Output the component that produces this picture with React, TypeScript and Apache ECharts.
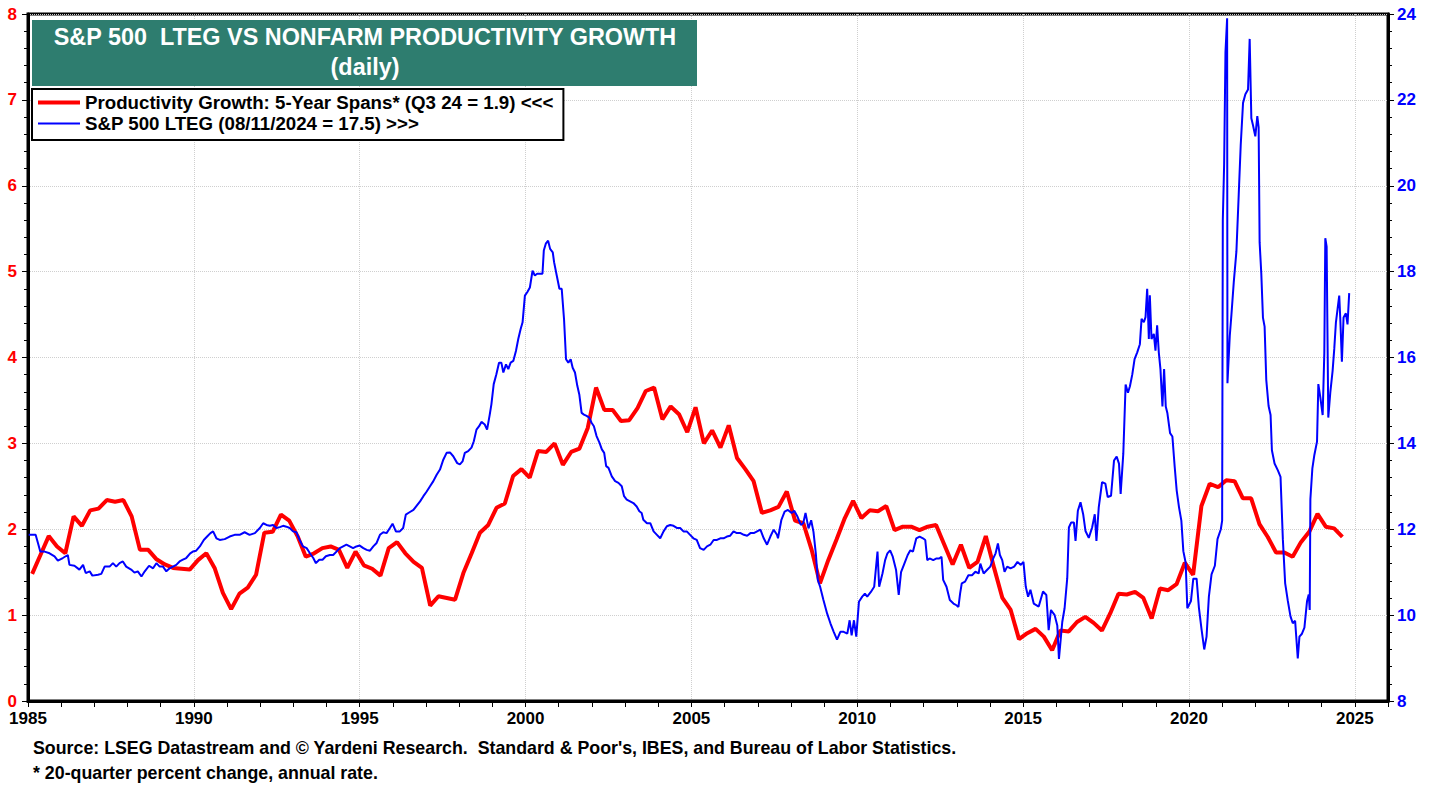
import React, { useEffect, useRef } from "react";
import * as echarts from "echarts";

const FONT = '"Liberation Sans", Arial, Helvetica, sans-serif';

const titleLine1 = "S&P 500  LTEG VS NONFARM PRODUCTIVITY GROWTH";
const titleLine2 = "(daily)";
const redName = "Productivity Growth: 5-Year Spans* (Q3 24 = 1.9) <<<";
const blueName = "S&P 500 LTEG (08/11/2024 = 17.5) >>>";
const footer1 = "Source: LSEG Datastream and \u00A9 Yardeni Research.  Standard & Poor's, IBES, and Bureau of Labor Statistics.";
const footer2 = "* 20-quarter percent change, annual rate.";

// x-axis tick labels (years)
const xTickLabels = [1985, 1990, 1995, 2000, 2005, 2010, 2015, 2020, 2025];

// Quarterly productivity growth (5-year spans), from Q1 1985
const productivityStartYear = 1985;
const productivityGrowth = [
  1.48, 1.70, 1.92, 1.80,
  1.72, 2.15, 2.04, 2.22,
  2.24, 2.34, 2.32, 2.34,
  2.15, 1.76, 1.76, 1.65,
  1.59, 1.55, 1.54, 1.53,
  1.64, 1.72, 1.55, 1.26,
  1.07, 1.25, 1.32, 1.47,
  1.96, 1.97, 2.17, 2.10,
  1.92, 1.68, 1.72, 1.78,
  1.80, 1.76, 1.55, 1.74,
  1.58, 1.54, 1.46, 1.78,
  1.85, 1.72, 1.62, 1.55,
  1.11, 1.22, 1.20, 1.18,
  1.49, 1.72, 1.96, 2.05,
  2.25, 2.30, 2.62, 2.70,
  2.60, 2.91, 2.90, 3.00,
  2.75, 2.90, 2.94, 3.18,
  3.65, 3.39, 3.39, 3.26,
  3.27, 3.41, 3.61, 3.65,
  3.28, 3.43, 3.34, 3.13,
  3.42, 3.00, 3.15, 2.95,
  3.21, 2.83, 2.70, 2.56,
  2.19, 2.22, 2.26, 2.44,
  2.10, 2.07, 1.76, 1.37,
  1.64, 1.88, 2.13, 2.33,
  2.13, 2.22, 2.21, 2.27,
  1.99, 2.03, 2.03, 1.99,
  2.03, 2.05, 1.82, 1.59,
  1.82, 1.55, 1.62, 1.92,
  1.55, 1.20, 1.06, 0.72,
  0.79, 0.84, 0.75, 0.59,
  0.82, 0.81, 0.92, 0.98,
  0.91, 0.82, 1.02, 1.25,
  1.24, 1.27, 1.20, 0.96,
  1.31, 1.29, 1.36, 1.61,
  1.47, 2.27, 2.53, 2.49,
  2.57, 2.56, 2.36, 2.36,
  2.06, 1.91, 1.73, 1.73,
  1.68, 1.85, 1.97, 2.18,
  2.03, 2.01, 1.91,
];

// S&P 500 LTEG: [decimal year, value]
const ltegPoints: [number, number][] = [
  [1985.02, 11.87], [1985.1, 11.87], [1985.23, 11.87], [1985.3, 11.68], [1985.37, 11.48], [1985.5, 11.48],
  [1985.65, 11.44], [1985.8, 11.37], [1985.9, 11.27], [1986.05, 11.33], [1986.2, 11.4], [1986.25, 11.17],
  [1986.4, 11.15], [1986.55, 11.06], [1986.66, 11.17], [1986.74, 10.98], [1986.86, 11.02], [1986.94, 10.92],
  [1987.11, 10.94], [1987.21, 10.96], [1987.31, 11.13], [1987.46, 11.13], [1987.56, 11.21], [1987.66, 11.13],
  [1987.76, 11.21], [1987.86, 11.25], [1987.96, 11.13], [1988.11, 11.06], [1988.21, 10.99], [1988.31, 11.02],
  [1988.42, 10.9], [1988.52, 11.02], [1988.65, 11.15], [1988.77, 11.09], [1988.87, 11.21], [1988.97, 11.13],
  [1989.07, 11.13], [1989.17, 11.02], [1989.27, 11.09], [1989.37, 11.13], [1989.47, 11.17], [1989.57, 11.25],
  [1989.67, 11.29], [1989.77, 11.33], [1989.89, 11.44], [1989.97, 11.48], [1990.07, 11.5], [1990.18, 11.6],
  [1990.3, 11.75], [1990.4, 11.83], [1990.5, 11.91], [1990.58, 11.95], [1990.68, 11.79], [1990.78, 11.75],
  [1990.93, 11.77], [1991.08, 11.83], [1991.23, 11.87], [1991.38, 11.87], [1991.53, 11.93], [1991.68, 11.87],
  [1991.84, 11.91], [1991.99, 12.03], [1992.09, 12.14], [1992.19, 12.1], [1992.29, 12.08], [1992.39, 12.1],
  [1992.49, 12.03], [1992.59, 12.05], [1992.69, 12.08], [1992.79, 12.06], [1992.89, 12.03], [1992.99, 11.95],
  [1993.09, 11.93], [1993.19, 11.75], [1993.29, 11.6], [1993.4, 11.56], [1993.5, 11.44], [1993.6, 11.33],
  [1993.68, 11.21], [1993.78, 11.29], [1993.88, 11.29], [1993.98, 11.37], [1994.1, 11.4], [1994.2, 11.4],
  [1994.3, 11.48], [1994.4, 11.56], [1994.5, 11.6], [1994.6, 11.64], [1994.7, 11.6], [1994.8, 11.56],
  [1994.9, 11.6], [1995.0, 11.62], [1995.11, 11.56], [1995.21, 11.52], [1995.31, 11.5], [1995.41, 11.6],
  [1995.51, 11.68], [1995.61, 11.87], [1995.71, 11.93], [1995.81, 11.91], [1995.91, 12.03], [1995.99, 12.13],
  [1996.09, 11.95], [1996.21, 11.95], [1996.31, 12.03], [1996.39, 12.34], [1996.49, 12.39], [1996.62, 12.45],
  [1996.72, 12.55], [1996.82, 12.65], [1996.92, 12.77], [1997.02, 12.88], [1997.12, 13.0], [1997.22, 13.12],
  [1997.32, 13.27], [1997.42, 13.39], [1997.52, 13.62], [1997.62, 13.78], [1997.72, 13.79], [1997.82, 13.7],
  [1997.94, 13.54],
  [1998.02, 13.51], [1998.1, 13.58], [1998.17, 13.78], [1998.27, 13.82], [1998.37, 13.9], [1998.44, 14.05],
  [1998.52, 14.32], [1998.6, 14.4], [1998.67, 14.5], [1998.77, 14.44], [1998.84, 14.32], [1998.92, 14.67],
  [1998.97, 14.91], [1999.04, 15.38], [1999.12, 15.61], [1999.2, 15.88], [1999.27, 15.88], [1999.33, 15.65],
  [1999.41, 15.84], [1999.48, 15.73], [1999.55, 15.88], [1999.63, 15.92], [1999.71, 16.15], [1999.78, 16.43],
  [1999.85, 16.66], [1999.91, 16.82], [1999.98, 17.44], [2000.05, 17.52], [2000.13, 17.63], [2000.21, 18.02],
  [2000.28, 17.91], [2000.35, 17.95], [2000.43, 17.95], [2000.51, 17.95], [2000.55, 18.49], [2000.61, 18.65],
  [2000.68, 18.72], [2000.74, 18.53], [2000.82, 18.45], [2000.86, 18.22], [2000.94, 17.91], [2001.02, 17.6],
  [2001.09, 17.6], [2001.16, 16.89], [2001.22, 15.96], [2001.29, 15.88], [2001.36, 15.96], [2001.42, 15.76],
  [2001.49, 15.65], [2001.56, 15.34], [2001.62, 15.14], [2001.69, 14.71], [2001.76, 14.67], [2001.84, 14.64],
  [2001.92, 14.6], [2001.99, 14.48], [2002.06, 14.4], [2002.14, 14.17], [2002.23, 14.01], [2002.3, 13.86],
  [2002.37, 13.78], [2002.43, 13.47], [2002.5, 13.43], [2002.6, 13.23], [2002.7, 13.12], [2002.8, 13.08],
  [2002.9, 13.0], [2002.97, 12.77], [2003.05, 12.69], [2003.15, 12.65], [2003.25, 12.61], [2003.35, 12.53],
  [2003.43, 12.42], [2003.5, 12.38], [2003.55, 12.22], [2003.66, 12.14], [2003.76, 12.14], [2003.86, 11.95],
  [2003.96, 11.87], [2004.06, 11.79], [2004.16, 11.95], [2004.26, 12.07], [2004.36, 12.1], [2004.46, 12.08],
  [2004.56, 12.03], [2004.66, 12.03], [2004.76, 11.95], [2004.86, 11.95], [2004.96, 11.87], [2005.06, 11.79],
  [2005.16, 11.75], [2005.26, 11.56], [2005.37, 11.52], [2005.47, 11.6], [2005.57, 11.64], [2005.67, 11.75],
  [2005.77, 11.75], [2005.87, 11.79], [2005.97, 11.79], [2006.07, 11.83], [2006.17, 11.85], [2006.27, 11.95],
  [2006.37, 11.91], [2006.48, 11.91], [2006.58, 11.87], [2006.68, 11.85], [2006.78, 11.91], [2006.88, 11.91],
  [2006.98, 11.95], [2007.08, 11.99], [2007.18, 11.79], [2007.28, 11.64], [2007.38, 11.83], [2007.48, 11.99],
  [2007.58, 11.87],
  [2007.61, 11.79], [2007.71, 12.21], [2007.81, 12.41], [2007.91, 12.45], [2008.02, 12.38], [2008.1, 12.43],
  [2008.2, 12.29], [2008.3, 12.1], [2008.37, 12.14], [2008.44, 12.38], [2008.53, 12.02], [2008.61, 12.21],
  [2008.68, 11.94], [2008.75, 11.44], [2008.81, 10.82], [2008.88, 10.66], [2008.98, 10.35], [2009.09, 10.04],
  [2009.19, 9.81], [2009.29, 9.61], [2009.39, 9.43], [2009.49, 9.61], [2009.59, 9.61], [2009.7, 9.57],
  [2009.77, 9.88], [2009.83, 9.53], [2009.9, 9.88], [2009.97, 9.5], [2010.05, 10.31], [2010.15, 10.43],
  [2010.23, 10.5], [2010.3, 10.43], [2010.41, 10.54], [2010.51, 10.66], [2010.61, 11.48], [2010.66, 10.66],
  [2010.76, 10.97], [2010.84, 11.28], [2010.91, 11.44], [2010.99, 11.51], [2011.07, 11.36], [2011.17, 11.05],
  [2011.25, 10.47], [2011.32, 11.0], [2011.42, 11.2], [2011.52, 11.4], [2011.6, 11.51], [2011.68, 11.48],
  [2011.78, 11.79], [2011.88, 11.83], [2011.98, 11.79], [2012.05, 11.75], [2012.11, 11.28], [2012.18, 11.32],
  [2012.29, 11.28], [2012.39, 11.32], [2012.47, 11.32], [2012.54, 11.36], [2012.59, 10.82], [2012.69, 10.66],
  [2012.79, 10.35], [2012.9, 10.27], [2012.99, 10.23], [2013.05, 10.19], [2013.1, 10.5], [2013.15, 10.74],
  [2013.25, 10.78], [2013.35, 10.93], [2013.46, 10.93], [2013.56, 11.01], [2013.66, 10.97], [2013.71, 11.2],
  [2013.81, 10.97], [2013.91, 11.05], [2014.01, 11.13], [2014.1, 11.32], [2014.17, 11.44], [2014.24, 11.67],
  [2014.3, 11.4], [2014.37, 11.28], [2014.44, 11.01], [2014.52, 11.13], [2014.62, 11.09], [2014.73, 11.13],
  [2014.83, 11.24], [2014.93, 11.17], [2015.01, 11.24], [2015.08, 10.66], [2015.15, 10.43],
  [2015.22, 10.59], [2015.32, 10.27], [2015.47, 10.2], [2015.6, 10.55], [2015.7, 10.47], [2015.77, 9.65],
  [2015.84, 10.12], [2015.95, 10.0], [2016.03, 9.76], [2016.08, 8.98], [2016.18, 9.84], [2016.25, 10.16],
  [2016.33, 10.86], [2016.38, 12.04], [2016.45, 12.16], [2016.53, 12.16], [2016.58, 11.73], [2016.65, 12.43],
  [2016.73, 12.63], [2016.81, 12.35], [2016.88, 11.96], [2016.98, 11.8], [2017.08, 12.04], [2017.16, 12.35],
  [2017.21, 11.73], [2017.28, 12.51], [2017.38, 13.1], [2017.48, 13.06], [2017.55, 12.75], [2017.65, 12.78],
  [2017.74, 13.6], [2017.82, 13.69], [2017.89, 13.53], [2017.94, 12.82], [2018.02, 13.76], [2018.09, 15.37],
  [2018.16, 15.18], [2018.22, 15.33], [2018.29, 15.6], [2018.36, 15.96], [2018.44, 16.12], [2018.52, 16.31],
  [2018.57, 16.9], [2018.64, 16.82], [2018.69, 16.94], [2018.74, 17.6], [2018.79, 16.43], [2018.82, 17.45],
  [2018.87, 16.43], [2018.94, 16.55], [2018.99, 16.16], [2019.04, 16.75], [2019.09, 16.12], [2019.14, 15.73],
  [2019.2, 14.86], [2019.25, 15.73], [2019.3, 14.86], [2019.35, 14.7], [2019.43, 14.24], [2019.5, 14.16],
  [2019.57, 13.45], [2019.63, 12.9], [2019.7, 12.51], [2019.77, 12.2], [2019.83, 11.49], [2019.9, 11.22],
  [2019.95, 10.16],
  [2020.06, 10.33], [2020.13, 10.85], [2020.23, 10.85], [2020.3, 10.17], [2020.38, 9.66], [2020.46, 9.2],
  [2020.53, 9.5], [2020.6, 10.43], [2020.68, 10.95], [2020.78, 11.15], [2020.86, 11.77], [2020.96, 12.0],
  [2021.0, 12.2], [2021.02, 19.2], [2021.06, 20.5], [2021.1, 23.1], [2021.15, 23.9], [2021.16, 15.4],
  [2021.23, 16.5], [2021.28, 17.0], [2021.35, 17.75], [2021.43, 18.47], [2021.5, 19.8], [2021.56, 20.95],
  [2021.63, 21.93], [2021.7, 22.13], [2021.78, 22.24], [2021.83, 23.42], [2021.88, 21.57], [2021.93, 21.41],
  [2022.0, 21.15], [2022.06, 21.62], [2022.1, 21.36], [2022.13, 18.68], [2022.18, 17.96], [2022.23, 16.93],
  [2022.28, 16.72], [2022.33, 15.48], [2022.4, 14.87], [2022.46, 14.66], [2022.5, 13.84], [2022.58, 13.53],
  [2022.68, 13.37], [2022.76, 13.22], [2022.83, 11.77], [2022.9, 10.74], [2022.98, 10.33], [2023.06, 9.97],
  [2023.13, 9.81], [2023.2, 9.87], [2023.28, 8.99], [2023.33, 9.5], [2023.4, 9.56], [2023.48, 9.71],
  [2023.56, 10.33], [2023.61, 10.48], [2023.64, 10.12], [2023.66, 12.7], [2023.72, 13.42], [2023.78, 13.73],
  [2023.86, 14.04], [2023.9, 15.38], [2023.96, 15.07], [2024.03, 14.66], [2024.08, 16.1], [2024.11, 18.78],
  [2024.15, 18.58], [2024.2, 14.6], [2024.26, 15.18], [2024.33, 15.69], [2024.38, 16.2], [2024.43, 16.82],
  [2024.48, 17.13], [2024.53, 17.44], [2024.56, 16.93], [2024.61, 15.9], [2024.66, 16.93], [2024.73, 17.03],
  [2024.78, 16.77], [2024.83, 17.5],
];

export default function App() {
  const ref = useRef<HTMLDivElement>(null);

  useEffect(() => {
    if (!ref.current) return;
    const chart = echarts.init(ref.current, undefined, { renderer: "svg" });

    const redData = productivityGrowth.map((v, i) => [productivityStartYear + (i + 0.5) / 4, v]);
    const labelSet = new Set(xTickLabels);
    const axisText = { fontWeight: "bold", fontSize: 17, lineHeight: 14, fontFamily: FONT };

    const option: any = {
      animation: false,
      backgroundColor: "#ffffff",
      textStyle: { fontFamily: FONT },
      grid: {
        left: 28,
        right: 50,
        top: 14,
        bottom: 84,
        show: true,
        borderColor: "#000",
        borderWidth: 3,
        containLabel: false,
      },
      legend: {
        show: true,
        orient: "vertical",
        left: 32,
        top: 89,
        padding: [4, 10, 7, 6],
        itemGap: 2,
        itemWidth: 42,
        itemHeight: 14,
        backgroundColor: "#ffffff",
        borderColor: "#000",
        borderWidth: 2,
        selectedMode: false,
        textStyle: { color: "#000", fontSize: 18.7, lineHeight: 18, fontWeight: "bold", fontFamily: FONT },
        data: [
          { name: redName, icon: "path://M0,0H42V4H0Z" },
          { name: blueName, icon: "path://M0,0H42V2H0Z" },
        ],
        z: 10,
      },
      xAxis: [
        {
          type: "value",
          min: 1985,
          max: 2026,
          interval: 1,
          position: "bottom",
          axisLine: { show: true, onZero: false, lineStyle: { color: "#000", width: 3 } },
          axisTick: { show: true, length: 6, lineStyle: { color: "#000", width: 1 } },
          axisLabel: {
            ...axisText,
            color: "#000",
            margin: 10,
            formatter: (v: number) => (labelSet.has(Math.round(v)) ? String(Math.round(v)) : ""),
          },
          splitLine: { show: false },
        },
        {
          type: "value",
          min: 1985,
          max: 2026,
          interval: 5,
          position: "top",
          axisLine: { show: false },
          axisTick: { show: false },
          axisLabel: { show: false },
          splitLine: { show: true, lineStyle: { color: "#cfcfcf", type: "dotted", width: 1 } },
        },
      ],
      yAxis: [
        {
          type: "value",
          min: 0,
          max: 8,
          interval: 1,
          position: "left",
          axisLine: { show: true, onZero: false, lineStyle: { color: "#000", width: 3 } },
          axisTick: { show: true, length: 6, lineStyle: { color: "#000", width: 1 } },
          minorTick: { show: true, splitNumber: 5, length: 4, lineStyle: { color: "#000", width: 1 } },
          axisLabel: { ...axisText, color: "#ff0000", margin: 11 },
          splitLine: { show: true, lineStyle: { color: "#cfcfcf", type: "dotted", width: 1 } },
        },
        {
          type: "value",
          min: 8,
          max: 24,
          interval: 2,
          position: "right",
          axisLine: { show: true, onZero: false, lineStyle: { color: "#000", width: 3 } },
          axisTick: { show: true, length: 6, lineStyle: { color: "#000", width: 1 } },
          minorTick: { show: true, splitNumber: 5, length: 4, lineStyle: { color: "#000", width: 1 } },
          axisLabel: { ...axisText, color: "#0000ff", margin: 9 },
          splitLine: { show: false },
        },
      ],
      series: [
        {
          name: redName,
          type: "line",
          xAxisIndex: 0,
          yAxisIndex: 0,
          data: redData,
          symbol: "none",
          showSymbol: false,
          lineStyle: { color: "#ff0000", width: 4 },
          itemStyle: { color: "#ff0000" },
          z: 3,
        },
        {
          name: blueName,
          type: "line",
          xAxisIndex: 0,
          yAxisIndex: 1,
          data: ltegPoints,
          symbol: "none",
          showSymbol: false,
          lineStyle: { color: "#0000ff", width: 2 },
          itemStyle: { color: "#0000ff" },
          z: 4,
        },
      ],
      graphic: [
        {
          type: "rect",
          shape: { x: 32, y: 20, width: 665, height: 66 },
          style: { fill: "#2e7d6f" },
          z: 5,
        },
        {
          type: "text",
          x: 365,
          y: 37,
          z: 6,
          style: {
            text: titleLine1,
            fill: "#ffffff",
            font: `bold 23.4px ${FONT}`,
            align: "center",
            verticalAlign: "middle",
          },
        },
        {
          type: "text",
          x: 365,
          y: 67,
          z: 6,
          style: {
            text: titleLine2,
            fill: "#ffffff",
            font: `bold 23.4px ${FONT}`,
            align: "center",
            verticalAlign: "middle",
          },
        },
        {
          type: "text",
          x: 33,
          y: 748,
          style: {
            text: footer1,
            fill: "#000",
            font: `bold 17.8px ${FONT}`,
            align: "left",
            verticalAlign: "middle",
          },
        },
        {
          type: "text",
          x: 33,
          y: 773,
          style: {
            text: footer2,
            fill: "#000",
            font: `bold 17.8px ${FONT}`,
            align: "left",
            verticalAlign: "middle",
          },
        },
      ],
    };

    chart.setOption(option);
    return () => chart.dispose();
  }, []);

  return <div ref={ref} style={{ width: 1438, height: 785, position: "absolute", left: 0, top: 0 }} />;
}
